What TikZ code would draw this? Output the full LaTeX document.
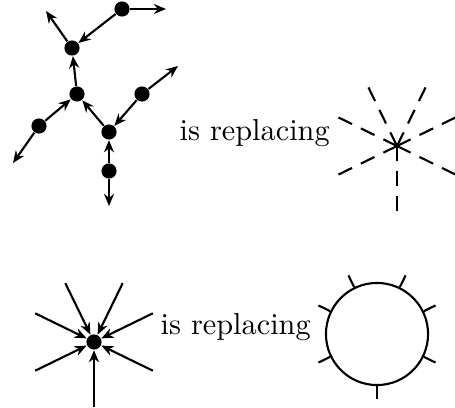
\documentclass[tikz,border=0pt]{standalone}
\usepackage{tikz}
\usetikzlibrary{arrows.meta, positioning}

\begin{document}
\begin{tikzpicture}[
    x=0.33pt, y=-0.33pt,
    dot/.style={circle, fill=black, inner sep=0pt, minimum size=5pt},
    arrow/.style={-{Stealth[length=4pt, width=3.3pt]}, line width=0.7pt},
    ray/.style={line width=0.7pt, dash pattern=on 5pt off 3.25pt},
    tick/.style={line width=0.7pt},
    label/.style={inner sep=0pt, anchor=base west}
]
    \useasboundingbox (0,0) rectangle (455,407);

    % tree of vertices
    \node[dot] (v1) at (122,9) {};
    \node[dot] (v2) at (72,48) {};
    \node[dot] (v3) at (77,94) {};
    \node[dot] (v4) at (39,126) {};
    \node[dot] (v5) at (109,132) {};
    \node[dot] (v6) at (142,94) {};
    \node[dot] (v7) at (109,171) {};

    % free ends
    \coordinate (e1) at (166,9);
    \coordinate (e2) at (46,11);
    \coordinate (e4) at (13,163);
    \coordinate (e6) at (178,66);
    \coordinate (e7) at (109,206);

    \draw[arrow] (v1) -- (e1);
    \draw[arrow] (v1) -- (v2);
    \draw[arrow] (v2) -- (e2);
    \draw[arrow] (v3) -- (v2);
    \draw[arrow] (v4) -- (v3);
    \draw[arrow] (v4) -- (e4);
    \draw[arrow] (v5) -- (v3);
    \draw[arrow] (v6) -- (v5);
    \draw[arrow] (v6) -- (e6);
    \draw[arrow] (v7) -- (v5);
    \draw[arrow] (v7) -- (e7);

    \node[label] (txt1) at (179,140) {is replacing};

    % dashed star
    \coordinate (hub) at (397,146);
    \foreach \a in {26,64,116,154,206,270,334} {
        \path (hub) ++(\a:21.5pt) coordinate (h\a);
        \draw[ray] (hub) -- (h\a);
    }

    % star of incoming arrows
    \node[dot] (sink) at (94,342) {};
    \foreach \a in {26,64,116,154,206,270,334} {
        \path (sink) ++(\a:21.6pt) coordinate (s\a);
        \draw[arrow] (s\a) -- (sink);
    }

    \node[label] (txt2) at (160,334) {is replacing};

    % circle with ticks
    \node[draw, circle, line width=0.7pt, inner sep=0pt, minimum size=33.7pt] (ring) at (377,334) {};
    \foreach \a in {26,64,116,154,206,270,334} {
        \path (ring.center) ++(\a:21.5pt) coordinate (t\a);
        \draw[tick] (ring.\a) -- (t\a);
    }
\end{tikzpicture}
\end{document}
